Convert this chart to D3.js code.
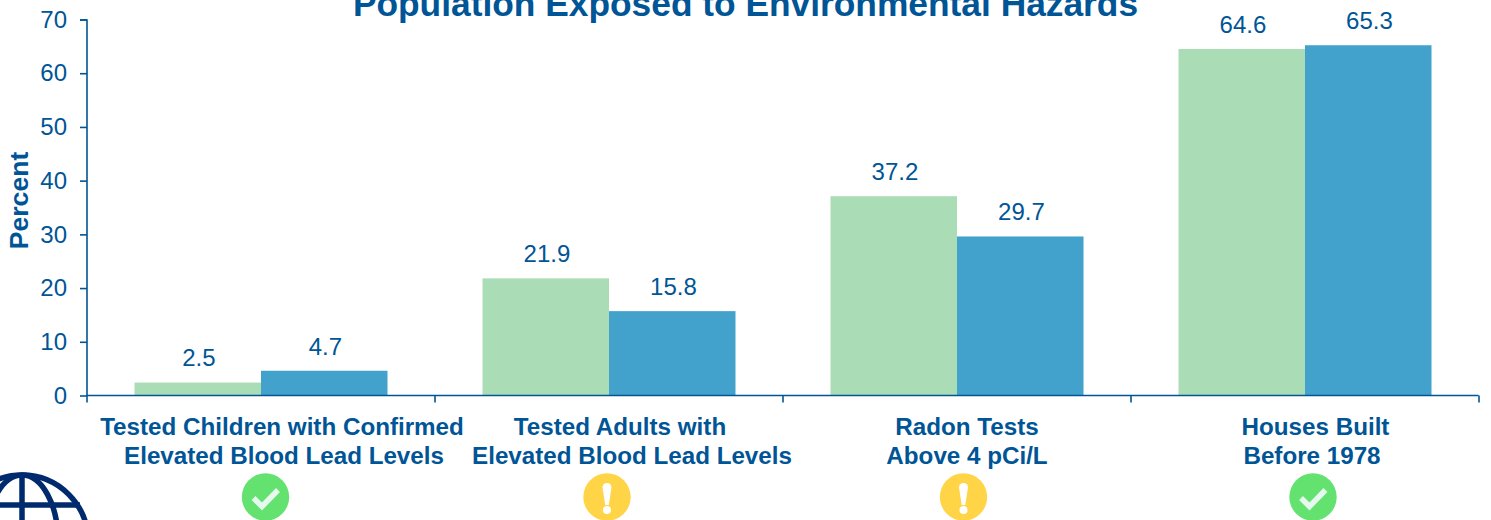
<!DOCTYPE html>
<html><head><meta charset="utf-8">
<script src="https://cdn.jsdelivr.net/npm/d3@7"></script>
<style>html,body{margin:0;padding:0;background:#fff}svg{display:block}text{font-family:"Liberation Sans",Arial,sans-serif}</style>
</head><body><div id="c"></div>
<script>
const titleText = "Population Exposed to Environmental Hazards";
const categories = ["Tested Children with Confirmed\nElevated Blood Lead Levels","Tested Adults with\nElevated Blood Lead Levels","Radon Tests\nAbove 4 pCi/L","Houses Built\nBefore 1978"];
const seriesA = [2.5,21.9,37.2,64.6];
const seriesB = [4.7,15.8,29.7,65.3];
const statuses = ["ok","warn","warn","ok"];
const yTicks = [0,10,20,30,40,50,60,70];
const navy="#005596", W=1491,H=520;
const svg=d3.select("#c").append("svg").attr("width",W).attr("height",H);
const x=d3.scaleBand().domain(d3.range(categories.length)).range([87,1479]);
const y=d3.scaleLinear().domain([0,70]).range([396,20]);
const inner=d3.scaleBand().domain([0,1]).range([x.bandwidth()*0.1365,x.bandwidth()*0.8635]);
svg.append("text").attr("x",745.5).attr("y",15.5).attr("text-anchor","middle").attr("font-size",29.5*786/656).attr("font-weight","bold").attr("fill",navy).text(titleText);
[[seriesA,"#aaddb5"],[seriesB,"#43a2cb"]].forEach(([vals,col],s)=>{
  svg.append("g").selectAll("rect").data(vals).join("rect")
    .attr("x",(d,i)=>x(i)+inner(s)).attr("width",inner.bandwidth())
    .attr("y",d=>y(d)).attr("height",d=>y(0)-y(d)).attr("fill",col);
  svg.append("g").selectAll("text").data(vals).join("text")
    .attr("x",(d,i)=>x(i)+inner(s)+inner.bandwidth()/2+1.2).attr("y",d=>y(d)-16.2)
    .attr("text-anchor","middle").attr("font-size",24).attr("fill",navy).text(d=>d.toFixed(1));
});
const ya=svg.append("g").attr("transform","translate(87,-0.5)").call(d3.axisLeft(y).tickValues(yTicks).tickSize(7).tickPadding(13));
ya.selectAll("path,line").attr("stroke",navy).attr("stroke-width",1.6);
ya.select("path").attr("d","M-7,20.5H0V396");
ya.selectAll("text").attr("font-size",24).attr("fill",navy).attr("font-family",'"Liberation Sans",Arial,sans-serif');
const xa=svg.append("g").attr("transform","translate(-0.5,395.5)").call(d3.axisBottom(d3.scaleLinear().domain([0,4]).range([87,1479])).tickValues([0,1,2,3,4]).tickSize(7).tickFormat(""));
xa.selectAll("path,line").attr("stroke",navy).attr("stroke-width",1.6);
xa.select("path").attr("d","M87,0H1479");
svg.append("text").attr("transform","translate(28,200.5) rotate(-90)").attr("text-anchor","middle").attr("font-size",26.6).attr("font-weight","bold").attr("fill",navy).text("Percent");
const labelX=[[282,284],[620,632],[967,967],[1315.5,1312]];
categories.forEach((c,i)=>{
  const t=svg.append("text").attr("text-anchor","middle").attr("font-size",24.2).attr("font-weight","bold").attr("fill",navy);
  c.split("\n").forEach((l,j)=>t.append("tspan").attr("x",labelX[i][j]).attr("y",435+j*29).text(l));
});
const iconX=[265.5,607,963.5,1313];
statuses.forEach((s,i)=>{
  const g=svg.append("g").attr("transform",`translate(${iconX[i]},497)`);
  g.append("circle").attr("r",23.7).attr("fill",s==="ok"?"#63e26f":"#ffd447");
  if(s==="ok"){
    g.append("path").attr("d","M-12,1L-3.5,9.5L12.5,-7").attr("fill","none").attr("stroke","#e6f9ee").attr("stroke-width",5.5);
  }else{
    g.append("path").attr("d","M-4.5,-9.5a4.5,4.5 0 0 1 9,0L1.8,8h-3.6Z").attr("fill","#fff");
    g.append("circle").attr("cy",13).attr("r",4).attr("fill","#fff");
  }
});
const globe=svg.append("g").attr("transform","translate(22,541)").attr("fill","none").attr("stroke","#002a6e").attr("stroke-width",5.5);
globe.append("circle").attr("r",66);
globe.append("ellipse").attr("rx",36).attr("ry",66);
globe.append("path").attr("d","M0,-66V66M-66,0H66M-58,-36H58");
</script></body></html>
